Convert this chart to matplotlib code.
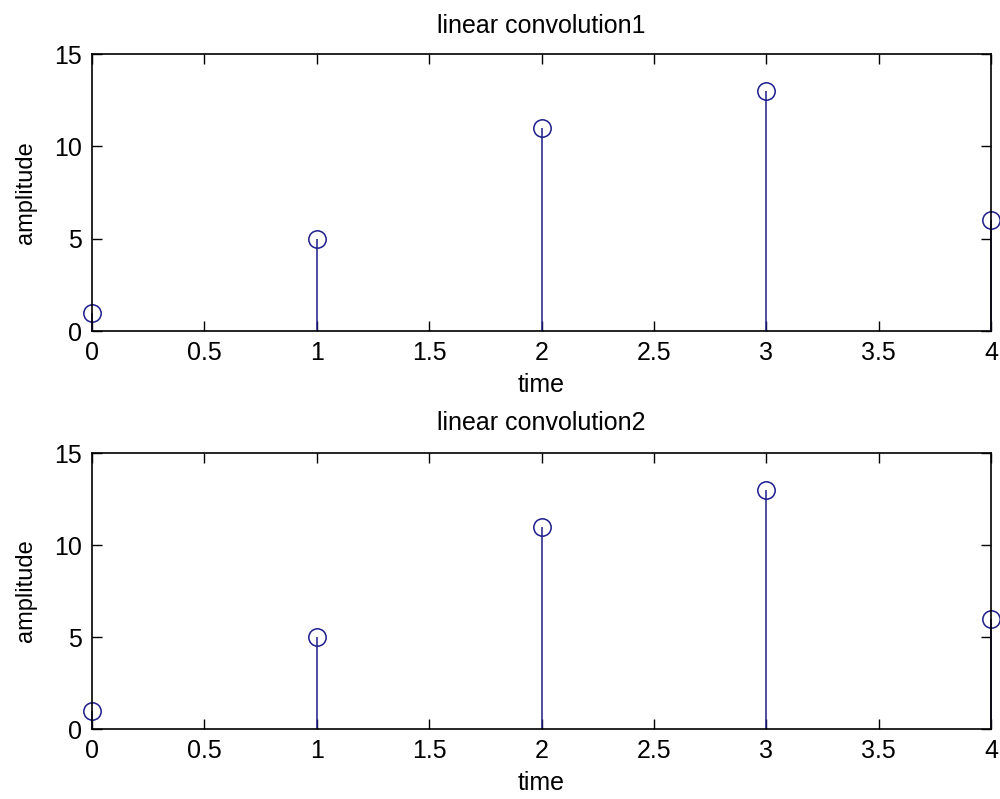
import matplotlib.pyplot as plt

time = [0, 1, 2, 3, 4]
amp1 = [1, 5, 11, 13, 6]
amp2 = [1, 5, 11, 13, 6]
titles = ["linear convolution1", "linear convolution2"]
xticks = [0, 0.5, 1, 1.5, 2, 2.5, 3, 3.5, 4]
xticklabels = ['0', '0.5', '1', '1.5', '2', '2.5', '3', '3.5', '4']
yticks = [0, 5, 10, 15]

plt.rcParams['font.family'] = ['Liberation Sans', 'DejaVu Sans']
plt.rcParams['font.size'] = 18

fig = plt.figure(figsize=(10, 7.99), dpi=100)
ax1 = fig.add_axes([0.092, 0.5857, 0.899, 0.3467])
ax2 = fig.add_axes([0.092, 0.0876, 0.899, 0.3454])

line_col = '#1c1c8c'
for ax, y, title, tpad in zip([ax1, ax2], [amp1, amp2], titles, [15, 16.5]):
    markers, stems, base = ax.stem(time, y, linefmt='-', markerfmt='o', basefmt=' ')
    plt.setp(stems, color=line_col, linewidth=1.1)
    plt.setp(markers, markerfacecolor='none', markeredgecolor=line_col,
             markersize=12.5, markeredgewidth=1.1, clip_on=False)
    stems.set_clip_on(False)
    ax.set_xlim(0, 4)
    ax.set_ylim(0, 15)
    ax.set_xticks(xticks)
    ax.set_xticklabels(xticklabels)
    ax.set_yticks(yticks)
    ax.tick_params(direction='in', top=True, right=True, length=7.5, width=1, pad=7, labelsize=18)
    for s in ax.spines.values():
        s.set_linewidth(1.2)
    ax.set_title(title, fontsize=18, pad=tpad)
    ax.set_xlabel("time", fontsize=18)
    ax.xaxis.set_label_coords(0.5, -0.153)
    ax.set_ylabel("amplitude", fontsize=17)
    ax.yaxis.set_label_coords(-0.0616, 0.5)

plt.savefig("out.png", dpi=100)
